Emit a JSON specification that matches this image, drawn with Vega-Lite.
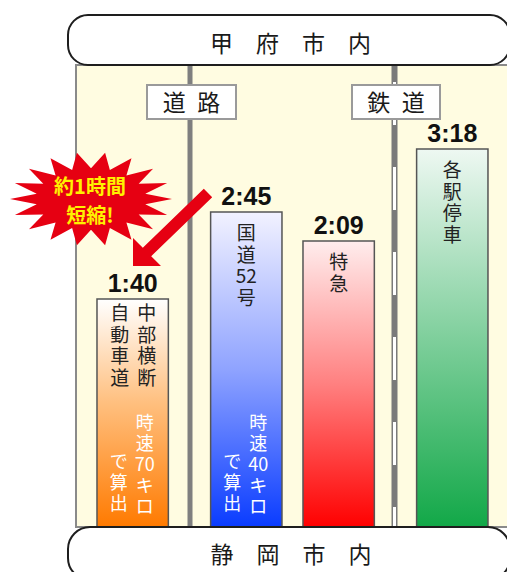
{
  "$schema": "https://vega.github.io/schema/vega-lite/v6.json",
  "width": 507,
  "height": 572,
  "autosize": "none",
  "padding": 0,
  "background": "#ffffff",
  "config": {"view": {"stroke": null}, "axis": {"disable": true}},
  "resolve": {"scale": {"x": "independent"}},
  "layer": [
    {
      "data": {"values": [{}]},
      "layer": [
        {
          "mark": {"type": "rect", "fill": "#FFFCE1", "stroke": "#8a8a8a", "strokeWidth": 2},
          "encoding": {
            "x": {"datum": 76, "type": "quantitative", "scale": {"domain": [0, 507], "nice": false, "zero": false}, "axis": null},
            "x2": {"datum": 530},
            "y": {"datum": 242, "type": "quantitative", "axis": null},
            "y2": {"datum": 0}
          }
        },
        {
          "mark": {"type": "rule", "stroke": "#7f7f7f", "strokeWidth": 5},
          "encoding": {"x": {"datum": 190, "type": "quantitative"}, "y": {"datum": 242, "type": "quantitative"}, "y2": {"datum": 0}}
        },
        {
          "mark": {"type": "rule", "stroke": "#7a7a7a", "strokeWidth": 6},
          "encoding": {"x": {"datum": 394.5, "type": "quantitative"}, "y": {"datum": 242, "type": "quantitative"}, "y2": {"datum": 0}}
        },
        {
          "mark": {"type": "rule", "stroke": "#ffffff", "strokeWidth": 3, "strokeDash": [43, 42], "strokeDashOffset": 68},
          "encoding": {"x": {"datum": 394.5, "type": "quantitative"}, "y": {"datum": 242, "type": "quantitative"}, "y2": {"datum": 0}}
        },
        {
          "mark": {"type": "rect", "fill": "#ffffff", "stroke": "#1e1e1e", "strokeWidth": 2, "cornerRadius": 20},
          "encoding": {"x": {"datum": 68, "type": "quantitative"}, "x2": {"datum": 510}, "y": {"datum": 268.2, "type": "quantitative"}, "y2": {"datum": 242}}
        },
        {
          "mark": {"type": "text", "text": "甲　府　市　内", "font": "Noto Sans CJK JP", "fontSize": 23, "fill": "#1a1a1a", "align": "center", "baseline": "middle"},
          "encoding": {"x": {"datum": 290.5, "type": "quantitative"}, "y": {"datum": 252.6, "type": "quantitative"}}
        },
        {
          "mark": {"type": "rect", "fill": "#ffffff", "stroke": "#9a9a9a", "strokeWidth": 2},
          "encoding": {"x": {"datum": 147, "type": "quantitative"}, "x2": {"datum": 236}, "y": {"datum": 231.5, "type": "quantitative"}, "y2": {"datum": 213.7}}
        },
        {
          "mark": {"type": "rect", "fill": "#ffffff", "stroke": "#9a9a9a", "strokeWidth": 2},
          "encoding": {"x": {"datum": 352, "type": "quantitative"}, "x2": {"datum": 440}, "y": {"datum": 231.5, "type": "quantitative"}, "y2": {"datum": 213.7}}
        },
        {
          "mark": {"type": "text", "text": "道\u2002路", "font": "Noto Sans CJK JP", "fontSize": 23, "fill": "#1a1a1a", "align": "center", "baseline": "middle"},
          "encoding": {"x": {"datum": 191.5, "type": "quantitative"}, "y": {"datum": 221.4, "type": "quantitative"}}
        },
        {
          "mark": {"type": "text", "text": "鉄\u2002道", "font": "Noto Sans CJK JP", "fontSize": 23, "fill": "#1a1a1a", "align": "center", "baseline": "middle"},
          "encoding": {"x": {"datum": 396, "type": "quantitative"}, "y": {"datum": 221.4, "type": "quantitative"}}
        }
      ]
    },
    {
      "data": {
        "values": [
          {"mode": "道路", "service": "速達", "route": "中部横断自動車道", "minutes": 100, "time": "1:40", "name": "中\n部\n横\n断", "name2": "自\n動\n車\n道", "note": "時\n速\n70\nキ\nロ", "note2": "で\n算\n出"},
          {"mode": "道路", "service": "普通", "route": "国道52号", "minutes": 165, "time": "2:45", "name": "国\n道\n52\n号", "note": "時\n速\n40\nキ\nロ", "note2": "で\n算\n出"},
          {"mode": "鉄道", "service": "速達", "route": "特急", "minutes": 129, "time": "2:09", "name": "特\n急"},
          {"mode": "鉄道", "service": "普通", "route": "各駅停車", "minutes": 198, "time": "3:18", "name": "各\n駅\n停\n車"}
        ]
      },
      "encoding": {
        "x": {"field": "mode", "type": "nominal", "sort": ["道路", "鉄道"], "scale": {"type": "band", "paddingInner": 0.102, "paddingOuter": 0.2816, "align": 0.836, "round": false}, "axis": null},
        "xOffset": {"field": "service", "type": "nominal", "sort": ["速達", "普通"], "scale": {"paddingInner": 0.372, "paddingOuter": 0, "round": false}}
      },
      "layer": [
        {
          "mark": {"type": "bar", "stroke": "#555555", "strokeWidth": 1.5},
          "encoding": {
            "y": {"field": "minutes", "type": "quantitative", "scale": {"domain": [0, 100, 129, 165, 198], "range": [527, 299, 241, 212, 149], "nice": false, "zero": false}, "axis": null},
            "color": {
              "condition": [
                {"test": "datum.route === '中部横断自動車道'", "value": {"gradient": "linear", "x1": 0, "y1": 0, "x2": 0, "y2": 1, "stops": [{"offset": 0, "color": "#FFFFFF"}, {"offset": 0.45, "color": "#FFC080"}, {"offset": 1, "color": "#FF7A00"}]}},
                {"test": "datum.route === '国道52号'", "value": {"gradient": "linear", "x1": 0, "y1": 0, "x2": 0, "y2": 1, "stops": [{"offset": 0, "color": "#F2F2FF"}, {"offset": 0.5, "color": "#8FA3FF"}, {"offset": 1, "color": "#0A3CFF"}]}},
                {"test": "datum.route === '特急'", "value": {"gradient": "linear", "x1": 0, "y1": 0, "x2": 0, "y2": 1, "stops": [{"offset": 0, "color": "#FFEDED"}, {"offset": 0.5, "color": "#FF8080"}, {"offset": 1, "color": "#FF0000"}]}}
              ],
              "value": {"gradient": "linear", "x1": 0, "y1": 0, "x2": 0, "y2": 1, "stops": [{"offset": 0, "color": "#EEF8F2"}, {"offset": 0.5, "color": "#7FCF9C"}, {"offset": 1, "color": "#12A848"}]}
            }
          }
        },
        {
          "transform": [{"filter": "datum.name2"}],
          "mark": {"type": "text", "lineBreak": "\n", "lineHeight": 21.7, "baseline": "top", "align": "center", "font": "Noto Sans CJK JP", "fontSize": 19, "fill": "#222222", "dx": 14, "dy": 6},
          "encoding": {"y": {"field": "minutes", "type": "quantitative"}, "text": {"field": "name"}}
        },
        {
          "transform": [{"filter": "datum.name2"}],
          "mark": {"type": "text", "lineBreak": "\n", "lineHeight": 21.7, "baseline": "top", "align": "center", "font": "Noto Sans CJK JP", "fontSize": 19, "fill": "#222222", "dx": -13, "dy": 6},
          "encoding": {"y": {"field": "minutes", "type": "quantitative"}, "text": {"field": "name2"}}
        },
        {
          "transform": [{"filter": "!datum.name2"}],
          "mark": {"type": "text", "lineBreak": "\n", "lineHeight": 21.7, "baseline": "top", "align": "center", "font": "Noto Sans CJK JP", "fontSize": 19, "fill": "#222222", "dy": 13},
          "encoding": {"y": {"field": "minutes", "type": "quantitative"}, "text": {"field": "name"}}
        },
        {
          "transform": [{"filter": "datum.note"}],
          "mark": {"type": "text", "lineBreak": "\n", "lineHeight": 21, "baseline": "top", "align": "center", "font": "Noto Sans CJK JP", "fontSize": 18, "fill": "#ffffff", "dx": 12},
          "encoding": {"y": {"datum": 49.3, "type": "quantitative"}, "text": {"field": "note"}}
        },
        {
          "transform": [{"filter": "datum.note"}],
          "mark": {"type": "text", "lineBreak": "\n", "lineHeight": 21, "baseline": "top", "align": "center", "font": "Noto Sans CJK JP", "fontSize": 18, "fill": "#ffffff", "dx": -14},
          "encoding": {"y": {"datum": 31.8, "type": "quantitative"}, "text": {"field": "note2"}}
        },
        {
          "mark": {"type": "text", "baseline": "alphabetic", "align": "center", "font": "Liberation Sans", "fontSize": 25, "fontWeight": "bold", "fill": "#111111", "dy": -7},
          "encoding": {"y": {"field": "minutes", "type": "quantitative"}, "text": {"field": "time"}}
        }
      ]
    },
    {
      "data": {"values": [{}]},
      "layer": [
        {
          "mark": {"type": "rect", "fill": "#ffffff", "stroke": "#1e1e1e", "strokeWidth": 2, "cornerRadius": 22},
          "encoding": {
            "x": {"datum": 68, "type": "quantitative", "scale": {"domain": [0, 507], "nice": false, "zero": false}, "axis": null},
            "x2": {"datum": 510},
            "y": {"datum": 0, "type": "quantitative"},
            "y2": {"datum": -23.2}
          }
        },
        {
          "mark": {"type": "text", "text": "静　岡　市　内", "font": "Noto Sans CJK JP", "fontSize": 23, "fill": "#1a1a1a", "align": "center", "baseline": "middle"},
          "encoding": {"x": {"datum": 291, "type": "quantitative"}, "y": {"datum": -12.9, "type": "quantitative"}}
        },
        {
          "mark": {"type": "point", "filled": true, "opacity": 1, "fill": "#E60012", "strokeWidth": 0, "size": 26244,
            "shape": "M1,0L0.67,0.066L0.94,0.198L0.589,0.19L0.766,0.373L0.437,0.291L0.5,0.502L0.233,0.357L0.174,0.571L0,0.38L-0.174,0.571L-0.233,0.357L-0.5,0.502L-0.437,0.291L-0.766,0.373L-0.589,0.19L-0.94,0.198L-0.67,0.066L-1,0L-0.67,-0.066L-0.94,-0.198L-0.589,-0.19L-0.766,-0.373L-0.437,-0.291L-0.5,-0.502L-0.233,-0.357L-0.174,-0.571L0,-0.38L0.174,-0.571L0.233,-0.357L0.5,-0.502L0.437,-0.291L0.766,-0.373L0.589,-0.19L0.94,-0.198L0.67,-0.066Z"},
          "encoding": {"x": {"datum": 91, "type": "quantitative"}, "y": {"datum": 171.8, "type": "quantitative"}}
        },
        {
          "mark": {"type": "text", "text": "約1時間", "font": "Noto Sans CJK JP", "fontSize": 20, "fontWeight": "bold", "fill": "#FFF100", "align": "center", "baseline": "middle"},
          "encoding": {"x": {"datum": 90, "type": "quantitative"}, "y": {"datum": 177.8, "type": "quantitative"}}
        },
        {
          "mark": {"type": "text", "text": "短縮!", "font": "Noto Sans CJK JP", "fontSize": 20, "fontWeight": "bold", "fill": "#FFF100", "align": "center", "baseline": "middle"},
          "encoding": {"x": {"datum": 90, "type": "quantitative"}, "y": {"datum": 159.3, "type": "quantitative"}}
        },
        {
          "mark": {"type": "point", "filled": true, "opacity": 1, "fill": "#E60012", "strokeWidth": 0, "size": 6400,
            "shape": "M0.78,-0.965L-0.745,0.51L-0.99,0.265L-0.99,0.965L-0.29,0.965L-0.535,0.72L0.99,-0.755Z"},
          "encoding": {"x": {"datum": 172.6, "type": "quantitative"}, "y": {"datum": 145.9, "type": "quantitative"}}
        }
      ]
    }
  ]
}
